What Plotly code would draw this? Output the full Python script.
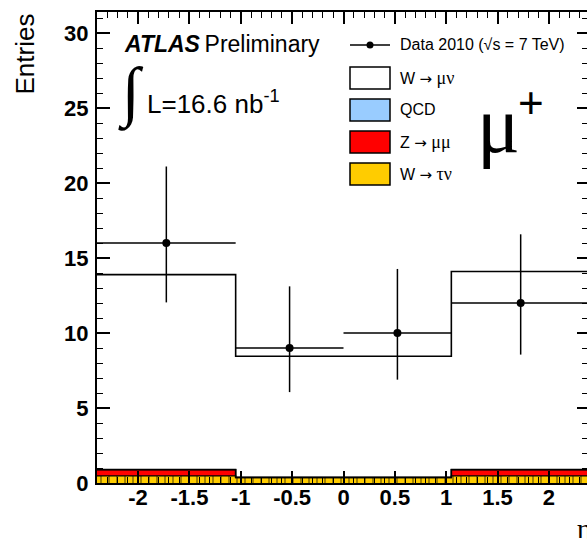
import plotly.graph_objects as go

# Binning in muon pseudorapidity and observed / expected yields per bin
bin_edges = [-2.4, -1.05, 0.0, 1.05, 2.4]
data_counts = [16, 9, 10, 12]
data_err_up = [5.10, 4.11, 4.27, 4.58]     # asymmetric Poisson intervals
data_err_down = [3.96, 2.94, 3.11, 3.44]
w_taunu = [0.47, 0.35, 0.35, 0.47]
z_mumu = [0.42, 0.02, 0.02, 0.42]
qcd = [0.01, 0.01, 0.01, 0.01]
w_munu = [12.99, 8.07, 8.07, 13.20]

x_tick_vals = [-2, -1.5, -1, -0.5, 0, 0.5, 1, 1.5, 2]
x_tick_text = ["-2", "-1.5", "-1", "-0.5", "0", "0.5", "1", "1.5", "2"]
y_tick_vals = [0, 5, 10, 15, 20, 25, 30]

YELLOW = "#FFCC00"
RED = "#FF0000"
BLUE = "#99CCFF"

W, H = 587, 539
L_PX, R_PX, T_PX, B_PX = 97, 587, 12, 483


def px(x):
    return (x - L_PX) / (R_PX - L_PX)


def py(y):
    return (B_PX - y) / (B_PX - T_PX)


def cumulate(*parts):
    return [sum(v) for v in zip(*parts)]


def step(vals):
    return list(vals) + [vals[-1]]


centers = [(a + b) / 2 for a, b in zip(bin_edges[:-1], bin_edges[1:])]
half_w = [(b - a) / 2 for a, b in zip(bin_edges[:-1], bin_edges[1:])]

s1 = cumulate(w_taunu)
s2 = cumulate(w_taunu, z_mumu)
s3 = cumulate(w_taunu, z_mumu, qcd)
s4 = cumulate(w_taunu, z_mumu, qcd, w_munu)

fig = go.Figure()

fig.add_trace(go.Scatter(
    x=bin_edges, y=step(s1), mode="lines", line=dict(shape="hv", color="black", width=1.2),
    fill="tozeroy", fillcolor=YELLOW,
    fillpattern=dict(shape="|", fgcolor="black", bgcolor=YELLOW, size=8, solidity=0.18),
    showlegend=False, hoverinfo="skip"))
fig.add_trace(go.Scatter(
    x=bin_edges, y=step(s2), mode="lines", line=dict(shape="hv", color="black", width=1.5),
    fill="tonexty", fillcolor=RED, showlegend=False, hoverinfo="skip"))
fig.add_trace(go.Scatter(
    x=bin_edges, y=step(s3), mode="lines", line=dict(shape="hv", color="black", width=1.5),
    fill="tonexty", fillcolor=BLUE, showlegend=False, hoverinfo="skip"))
fig.add_trace(go.Scatter(
    x=bin_edges, y=step(s4), mode="lines", line=dict(shape="hv", color="black", width=1.6),
    fill="tonexty", fillcolor="rgba(255,255,255,0)", showlegend=False, hoverinfo="skip"))

fig.add_trace(go.Scatter(
    x=centers, y=data_counts, mode="markers",
    marker=dict(color="black", size=8),
    error_y=dict(type="data", symmetric=False, array=data_err_up, arrayminus=data_err_down,
                 width=0, thickness=1.5, color="black"),
    error_x=dict(type="data", array=half_w, width=0, thickness=1.5, color="black"),
    showlegend=False, hoverinfo="skip"))

tickfont = dict(family="Liberation Sans, Arial, sans-serif", size=22, color="black", weight="bold")

fig.update_layout(
    width=W, height=H,
    margin=dict(l=L_PX, r=W - R_PX, t=T_PX, b=H - B_PX, pad=0),
    paper_bgcolor="white", plot_bgcolor="white",
    showlegend=False,
    xaxis=dict(
        range=[-2.4, -2.4 + 4.8 * (R_PX - L_PX) / 493.0],
        tickvals=x_tick_vals, ticktext=x_tick_text, tickfont=tickfont,
        ticks="inside", ticklen=12, tickwidth=1.5, tickcolor="black",
        minor=dict(dtick=0.1, tick0=0, ticks="inside", ticklen=6, tickwidth=1.2, tickcolor="black"),
        showline=True, linecolor="black", linewidth=2, mirror="ticks",
        showgrid=False, zeroline=False, ticklabelstandoff=-6,
    ),
    yaxis=dict(
        range=[0, 31.4],
        tickvals=y_tick_vals, tickfont=tickfont,
        ticks="inside", ticklen=13, tickwidth=1.5, tickcolor="black",
        minor=dict(dtick=1, tick0=0, ticks="inside", ticklen=6, tickwidth=1.2, tickcolor="black"),
        showline=True, linecolor="black", linewidth=2, mirror=False,
        showgrid=False, zeroline=False, ticklabelstandoff=2,
    ),
    yaxis2=dict(
        overlaying="y", side="right", anchor="x", range=[0, 31.4],
        tickvals=y_tick_vals, showticklabels=False,
        ticks="inside", ticklen=10, tickwidth=1.5, tickcolor="black",
        minor=dict(dtick=1, tick0=0, ticks="inside", ticklen=5, tickwidth=1.2, tickcolor="black"),
        showline=False, showgrid=False, zeroline=False,
    ),
)

# keep the right-hand axis alive
fig.add_trace(go.Scatter(x=[0], y=[0], yaxis="y2", mode="markers",
                         marker=dict(opacity=0), showlegend=False, hoverinfo="skip"))

sans = "Liberation Sans, Arial, sans-serif"
serif = "Liberation Serif, Times New Roman, serif"


def note(text, x, y, size, family=sans, xanchor="left", yanchor="middle", angle=0):
    fig.add_annotation(text=text, x=px(x), y=py(y), xref="paper", yref="paper",
                       xanchor=xanchor, yanchor=yanchor, textangle=angle, showarrow=False,
                       font=dict(family=family, size=size, color="black"))


def greek(s):
    return "<span style='font-family:Liberation Serif;font-size:18px'>" + s + "</span>"


ARROW = "<span style='font-family:DejaVu Sans;font-size:15px'>→</span>"

# axis titles
note("Entries", 24, 12, 26, xanchor="center", yanchor="top", angle=-90)
note("η", 575, 528, 28, family=serif)

# experiment label and luminosity
note("<b><i>ATLAS</i></b>\u2009Preliminary", 122, 44, 23)
note("∫", 131, 93, 66, family=serif, xanchor="center")
note("L=16.6 nb<sup>-1</sup>", 145, 103, 26)

# big charge label
note("μ", 498, 125, 80, family=serif, xanchor="center")
note("+", 531, 103, 44, family=sans, xanchor="center")

# legend block
fig.add_shape(type="line", xref="paper", yref="paper", x0=px(350), x1=px(390), y0=py(45), y1=py(45),
              line=dict(color="black", width=1.5))
fig.add_shape(type="circle", xref="paper", yref="paper", x0=px(366.5), x1=px(373.5),
              y0=py(48.5), y1=py(41.5), fillcolor="black", line=dict(color="black", width=0))
note("Data 2010 (√s = 7 TeV)", 398, 45, 16)

legend_rows = [
    ("W " + ARROW + " " + greek("μν"), "white", 78),
    ("QCD", BLUE, 110),
    ("Z " + ARROW + " " + greek("μμ"), RED, 142),
    ("W " + ARROW + " " + greek("τν"), YELLOW, 174),
]
for label, color, yc in legend_rows:
    fig.add_shape(type="rect", xref="paper", yref="paper", x0=px(350), x1=px(390),
                  y0=py(yc + 11), y1=py(yc - 11), fillcolor=color, line=dict(color="black", width=1.5))
    note(label, 398, yc, 16)

fig.write_html("out.html")
